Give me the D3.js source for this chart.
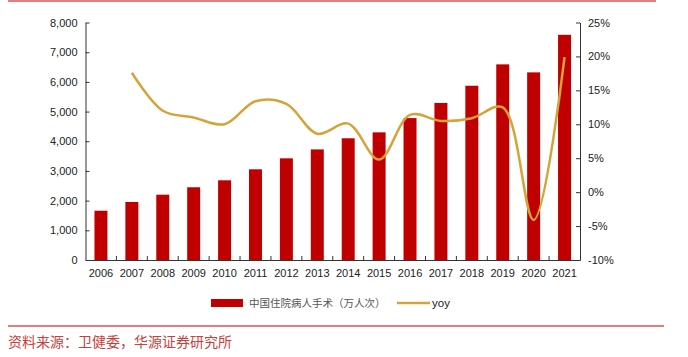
<!DOCTYPE html>
<html><head><meta charset="utf-8">
<script src="https://cdn.jsdelivr.net/npm/d3@7"></script>
<style>body{margin:0;background:#fff;}svg{display:block;}</style>
</head><body>
<svg id="c" width="688" height="357"></svg>
<script>
const years = ["2006","2007","2008","2009","2010","2011","2012","2013","2014","2015","2016","2017","2018","2019","2020","2021"];
const surgeries = [1660,1955,2200,2450,2685,3055,3425,3725,4100,4300,4780,5290,5870,6590,6320,7585];
const yoy = [null,17.6,12.0,11.0,10.0,13.4,13.0,8.6,10.1,4.8,11.4,10.5,10.9,12.5,-4.1,19.9];
const leftTicks = [0,1000,2000,3000,4000,5000,6000,7000,8000];
const rightTicks = [-10,-5,0,5,10,15,20,25];
const barName = "中国住院病人手术（万人次）";
const lineName = "yoy";
const sourceText = "资料来源：卫健委，华源证券研究所";

const svg = d3.select("#c");
const L = 85.5, R = 580, T = 22.5, B = 260;
const x = d3.scaleBand().domain(years).range([L, R]).paddingInner(0.58).paddingOuter(0.29);
const xb = d3.scaleBand().domain(years).range([L, R]);
const yL = d3.scaleLinear().domain([0, 8000]).range([B, T]);
const yR = d3.scaleLinear().domain([-10, 25]).range([B, T]);
const font = "Arial, 'Liberation Sans', sans-serif";

// top & bottom red rules
svg.append("line").attr("x1",8).attr("x2",656).attr("y1",1).attr("y2",1).attr("stroke","#d9534f").attr("stroke-width",1.5);
svg.append("line").attr("x1",8).attr("x2",664).attr("y1",326).attr("y2",326).attr("stroke","#d9534f").attr("stroke-width",1.5);

// bars
svg.append("g").selectAll("rect").data(years).join("rect")
  .attr("x", d => x(d)).attr("width", x.bandwidth())
  .attr("y", (d,i) => yL(surgeries[i])).attr("height", (d,i) => B - yL(surgeries[i]))
  .attr("fill", "#c00000");

// line
const pts = years.map((d,i)=>[xb(d)+xb.bandwidth()/2, yoy[i]]).filter(p=>p[1]!==null);
svg.append("path").datum(pts)
  .attr("d", d3.line().x(p=>p[0]).y(p=>yR(p[1])).curve(d3.curveCatmullRom.alpha(0.5)))
  .attr("fill","none").attr("stroke","#d6a23a").attr("stroke-width",2.5);

// left axis
const gl = svg.append("g").attr("transform",`translate(${L},0)`)
  .call(d3.axisLeft(yL).tickValues(leftTicks).tickFormat(d3.format(",")).tickSizeInner(-4).tickSizeOuter(0).tickPadding(8));
// right axis
const gr = svg.append("g").attr("transform",`translate(${R},0)`)
  .call(d3.axisRight(yR).tickValues(rightTicks).tickFormat(d=>d+"%").tickSizeInner(-4).tickSizeOuter(0).tickPadding(8));
// bottom axis
const gb = svg.append("g").attr("transform",`translate(0,${B})`)
  .call(d3.axisBottom(xb).tickSize(0).tickPadding(9));
// category boundary ticks
svg.append("g").selectAll("line").data(years.slice(1)).join("line")
  .attr("x1", d=>xb(d)).attr("x2", d=>xb(d)).attr("y1", B).attr("y2", B-4)
  .attr("stroke","#333");

[gl,gr,gb].forEach(g=>{
  g.selectAll("path.domain").attr("stroke","#333");
  g.selectAll(".tick line").attr("stroke","#333");
  g.selectAll("text").attr("font-family",font).attr("font-size",11).attr("fill","#222");
});

// legend
const lg = svg.append("g");
lg.append("rect").attr("x",211).attr("y",299).attr("width",32).attr("height",8).attr("fill","#c00000");
lg.append("text").attr("x",249).attr("y",307).text(barName)
  .attr("font-family","'Noto Sans CJK SC', sans-serif").attr("font-size",10.5).attr("fill","#555");
lg.append("line").attr("x1",397).attr("x2",430).attr("y1",303).attr("y2",303).attr("stroke","#d6a23a").attr("stroke-width",2.5);
lg.append("text").attr("x",432).attr("y",307).text(lineName)
  .attr("font-family",font).attr("font-size",11.5).attr("fill","#222");

// source
svg.append("text").attr("x",8).attr("y",347).text(sourceText)
  .attr("font-family","'Noto Sans CJK SC', sans-serif").attr("font-size",14).attr("fill","#c9403a");
</script>
</body></html>
